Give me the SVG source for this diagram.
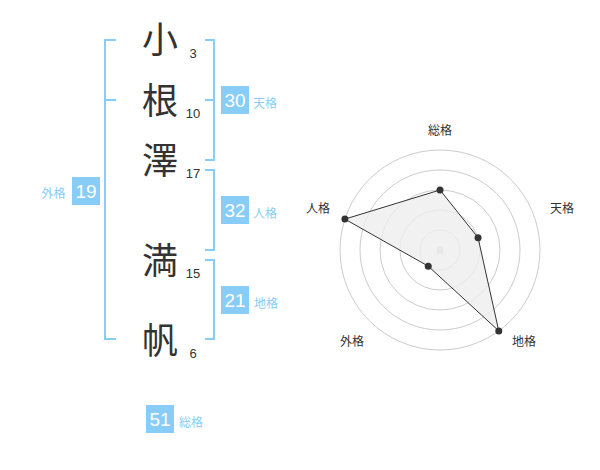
<svg xmlns="http://www.w3.org/2000/svg" width="600" height="470" viewBox="0 0 600 470">
<style>
.ch{font-family:"Noto Sans CJK JP","Noto Sans CJK SC",sans-serif;font-size:36px;fill:#333;text-anchor:middle}
.num{font-family:"Liberation Sans",Arial,sans-serif;font-size:13px;fill:#333;text-anchor:middle}
.br{fill:none;stroke:#88cdf7;stroke-width:2}
.box{fill:#88cdf7}
.bt{font-family:"Liberation Sans",Arial,sans-serif;font-size:19px;fill:#fff;text-anchor:middle}
.lb{font-family:"Noto Sans CJK JP","Noto Sans CJK SC",sans-serif;font-size:12px;fill:#88cdf7}
.ring{fill:none;stroke:#cccccc;stroke-width:1}
.rl{font-family:"Noto Sans CJK JP","Noto Sans CJK SC",sans-serif;font-size:12px;fill:#333;text-anchor:middle}
.dot{fill:#333}
</style>
<rect width="600" height="470" fill="#fff"/>
<g id="chars">
<g id="c1"><text class="ch" x="160" y="53">小</text><text class="num" x="193" y="57.5">3</text></g>
<g id="c2"><text class="ch" x="160" y="114">根</text><text class="num" x="193" y="117.5">10</text></g>
<g id="c3"><text class="ch" x="160" y="174">澤</text><text class="num" x="193" y="177.5">17</text></g>
<g id="c4"><text class="ch" x="160" y="274">満</text><text class="num" x="193" y="277.5">15</text></g>
<g id="c5"><text class="ch" x="160" y="354">帆</text><text class="num" x="193" y="357.5">6</text></g>
</g>
<g id="connectors">
<path class="br" d="M116 40H105V339H116M105 100H116"/>
<path class="br" d="M205 40H214V160H205M205 100H214"/>
<path class="br" d="M205 170H214V250H205"/>
<path class="br" d="M205 260H214V339H205"/>
</g>
<g id="gaikaku"><rect class="box" x="72" y="177" width="28" height="28"/><text class="bt" x="86" y="198">19</text><text class="lb" x="41.5" y="198">外格</text></g>
<g id="tenkaku"><rect class="box" x="221" y="86" width="28" height="28"/><text class="bt" x="235" y="107">30</text><text class="lb" x="253" y="108">天格</text></g>
<g id="jinkaku"><rect class="box" x="221" y="196" width="28" height="28"/><text class="bt" x="235" y="217">32</text><text class="lb" x="253" y="218">人格</text></g>
<g id="chikaku"><rect class="box" x="221" y="286" width="28" height="28"/><text class="bt" x="235" y="307">21</text><text class="lb" x="254" y="308">地格</text></g>
<g id="soukaku"><rect class="box" x="146" y="405" width="28" height="28"/><text class="bt" x="160" y="426">51</text><text class="lb" x="179" y="427">総格</text></g>
<g id="radar">
<circle class="ring" cx="440" cy="250" r="20"/>
<circle class="ring" cx="440" cy="250" r="40"/>
<circle class="ring" cx="440" cy="250" r="60"/>
<circle class="ring" cx="440" cy="250" r="80"/>
<circle class="ring" cx="440" cy="250" r="100"/>
<circle cx="440" cy="250" r="3.5" fill="#cccccc"/>
<polygon points="440,190 478.04,237.64 498.78,330.9 428.24,266.18 344.89,219.1" fill="#eeeeee" fill-opacity="0.8" stroke="#333" stroke-width="1"/>
<circle class="dot" cx="440" cy="190" r="3.5"/>
<circle class="dot" cx="478.04" cy="237.64" r="3.5"/>
<circle class="dot" cx="498.78" cy="330.9" r="3.5"/>
<circle class="dot" cx="428.24" cy="266.18" r="3.5"/>
<circle class="dot" cx="344.89" cy="219.1" r="3.5"/>
<text class="rl" x="440" y="134.5">総格</text>
<text class="rl" x="562" y="212.5">天格</text>
<text class="rl" x="524" y="345.5">地格</text>
<text class="rl" x="352" y="345.5">外格</text>
<text class="rl" x="318" y="212.5">人格</text>
</g>
</svg>
